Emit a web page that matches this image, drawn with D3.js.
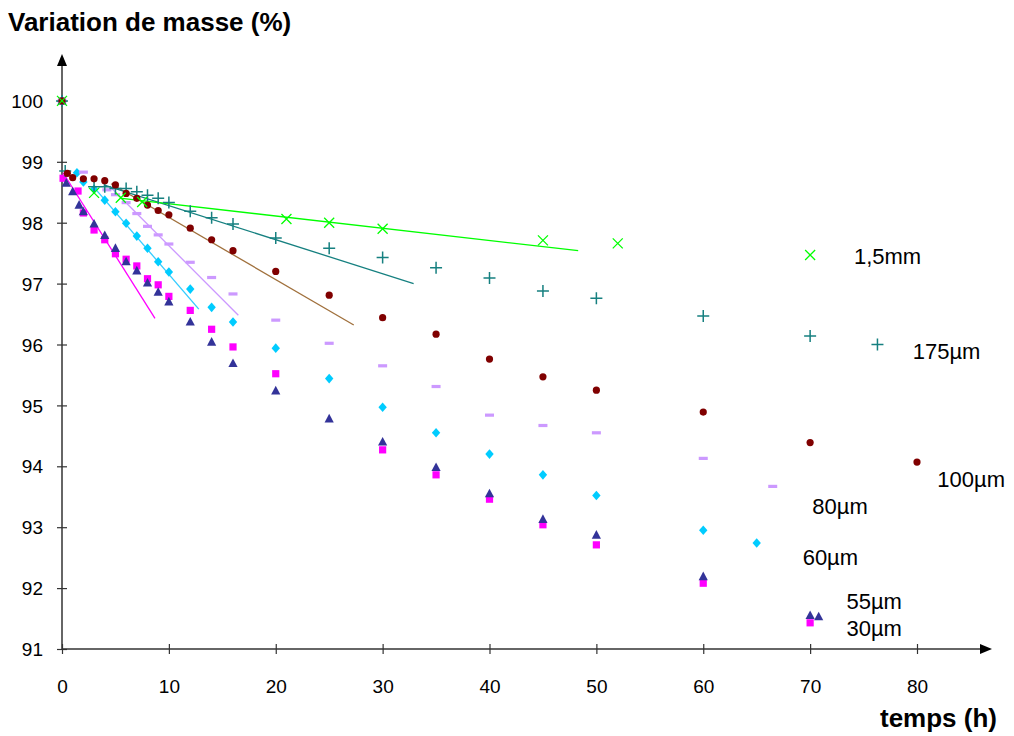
<!DOCTYPE html>
<html><head><meta charset="utf-8">
<script src="https://cdn.jsdelivr.net/npm/d3@7"></script>
<style>body{margin:0;background:#fff}svg{display:block;font-family:Arial,"Liberation Sans",sans-serif}</style>
</head><body><svg id="c" width="1014" height="736"></svg>
<script>
// ---- data ----
const xTicks = [0,10,20,30,40,50,60,70,80];
const yTicks = [91,92,93,94,95,96,97,98,99,100];

const t30 = [0,0.1,1.5,2,3,4,5,6,7,8,9,10,12,14,16,20,30,35,40,45,50,60,70];
const v30 = [100,98.73,98.52,98.16,97.88,97.72,97.49,97.40,97.29,97.08,96.98,96.79,96.56,96.25,95.96,95.52,94.27,93.86,93.46,93.04,92.71,92.08,91.43];

const t55 = [0,0.4,1,1.6,2,3,4,5,6,7,8,9,10,12,14,16,20,25,30,35,40,45,50,60,70,70.8];
const v55 = [100,98.65,98.51,98.29,98.18,97.98,97.79,97.58,97.36,97.21,97.01,96.86,96.70,96.37,96.04,95.69,95.24,94.78,94.40,93.98,93.55,93.13,92.87,92.19,91.55,91.53];

const t60 = [0,1.4,2,3,4,5,6,7,8,9,10,12,14,16,20,25,30,35,40,45,50,60,65];
const v60 = [100,98.82,98.67,98.55,98.37,98.18,97.99,97.78,97.58,97.36,97.19,96.91,96.61,96.37,95.94,95.44,94.97,94.55,94.20,93.86,93.52,92.95,92.74];

const t80 = [0,2,4.2,5,6,7,8,9,10,12,14,16,20,25,30,35,40,45,50,60,66.5];
const v80 = [100,98.83,98.54,98.46,98.33,98.15,97.94,97.80,97.65,97.35,97.10,96.83,96.40,96.02,95.65,95.31,94.84,94.67,94.55,94.13,93.67];

const t100 = [0,0.5,1,2,3,4,5,6,7,8,9,10,12,14,16,20,25,30,35,40,45,50,60,70,80];
const v100 = [100,98.81,98.74,98.72,98.72,98.69,98.62,98.48,98.40,98.29,98.20,98.13,97.91,97.72,97.54,97.20,96.81,96.44,96.17,95.76,95.47,95.25,94.89,94.39,94.07];

const t175 = [0,0.3,3,4,5,6,7,8,9,10,12,14,16,20,25,30,35,40,45,50,60,70,76.3];
const v175 = [100,98.85,98.59,98.59,98.56,98.56,98.51,98.45,98.40,98.33,98.19,98.08,97.98,97.75,97.58,97.43,97.26,97.09,96.88,96.76,96.47,96.14,96.00];

const t15 = [0,3,5.5,7.5,21,25,30,45,52,70];
const v15 = [100,98.49,98.41,98.34,98.06,98.00,97.90,97.71,97.66,97.47];

// trend lines: [t start, t end], [v start, v end]
const trend30 = {t:[0.1,8.7], v:[98.82,96.43]};
const trend60 = {t:[3.2,12.8], v:[98.54,96.58]};
const trend80 = {t:[4.5,16.5], v:[98.59,96.48]};
const trend100 = {t:[4.6,27.3], v:[98.64,96.32]};
const trend175 = {t:[3.9,32.9], v:[98.62,97.00]};
const trend15 = {t:[5.6,48.3], v:[98.40,97.54]};

const labelNames = ["1,5mm","175µm","100µm","80µm","60µm","55µm","30µm"];
const labelT = [74.1,79.6,81.9,70.2,69.3,73.4,73.4];
const labelV = [97.45,95.89,93.78,93.35,92.51,91.79,91.34];

// ---- drawing ----
const svg = d3.select("#c");
const x = d3.scaleLinear().domain([0,80]).range([62,917]);
const y = d3.scaleLinear().domain([91,100]).range([649,100.9]);
const axisCol = "#333";

// axes
const g = svg.append("g");
g.append("line").attr("x1",x(0)).attr("x2",982).attr("y1",y(91)).attr("y2",y(91)).attr("stroke",axisCol).attr("stroke-width",1.5);
g.append("line").attr("x1",x(0)).attr("x2",x(0)).attr("y1",y(91)).attr("y2",64).attr("stroke",axisCol).attr("stroke-width",1.5);
g.append("path").attr("d",`M992,${y(91)} L980,${y(91)-5} L980,${y(91)+5} Z`).attr("fill","#000");
g.append("path").attr("d",`M${x(0)},54 L${x(0)-5},66 L${x(0)+5},66 Z`).attr("fill","#000");

const xAxis = d3.axisBottom(x).tickValues(xTicks).tickSize(0).tickPadding(0);
const gx = svg.append("g").attr("transform",`translate(0,${y(91)})`).call(xAxis);
gx.select(".domain").remove();
gx.selectAll(".tick line").remove();
gx.selectAll(".tick").append("line").attr("y1",-5).attr("y2",5).attr("stroke",axisCol).attr("stroke-width",1.2);
gx.selectAll(".tick text").attr("y",37).attr("dy","0.35em").attr("font-size",19).attr("fill","#000").attr("font-family","Arial, 'Liberation Sans', sans-serif");

const yAxis = d3.axisLeft(y).tickValues(yTicks).tickSize(0).tickPadding(0);
const gy = svg.append("g").attr("transform",`translate(${x(0)},0)`).call(yAxis);
gy.select(".domain").remove();
gy.selectAll(".tick").append("line").attr("x1",-5).attr("x2",5).attr("stroke",axisCol).attr("stroke-width",1.2);
gy.selectAll(".tick text").attr("x",-19).attr("dy","0.35em").attr("font-size",19).attr("fill","#000").attr("font-family","Arial, 'Liberation Sans', sans-serif");

// titles
svg.append("text").attr("x",8).attr("y",31).attr("font-size",26).attr("font-weight","bold").text("Variation de masse (%)");
svg.append("text").attr("x",997).attr("y",727).attr("text-anchor","end").attr("font-size",26).attr("font-weight","bold").text("temps (h)");

// trend lines
const trends = [
  [trend30,"#ff00ff"],[trend60,"#33ccff"],[trend80,"#cc99ff"],
  [trend100,"#a0703c"],[trend175,"#168080"],[trend15,"#00ff00"]
];
trends.forEach(([tr,c])=>{
  svg.append("line").attr("x1",x(tr.t[0])).attr("y1",y(tr.v[0])).attr("x2",x(tr.t[1])).attr("y2",y(tr.v[1]))
    .attr("stroke",c).attr("stroke-width",1.3);
});

// markers
function pts(ts,vs){return ts.map((t,i)=>({t,v:vs[i]}));}
const mk = {
  square: (s,c)=>s.append("rect").attr("x",-3.6).attr("y",-3.6).attr("width",7.2).attr("height",7.2).attr("fill",c),
  triangle: (s,c)=>s.append("path").attr("d","M0,-5 L4.6,3.6 L-4.6,3.6 Z").attr("fill",c),
  diamond: (s,c)=>s.append("path").attr("d","M0,-4.8 L4.2,0 L0,4.8 L-4.2,0 Z").attr("fill",c),
  dash: (s,c)=>s.append("rect").attr("x",-4.5).attr("y",-1.6).attr("width",9).attr("height",3.2).attr("fill",c),
  circle: (s,c)=>s.append("circle").attr("r",3.6).attr("fill",c),
  plus: (s,c)=>s.append("path").attr("d","M-6,0 H6 M0,-6 V6").attr("stroke",c).attr("stroke-width",1.5).attr("fill","none"),
  cross: (s,c)=>s.append("path").attr("d","M-5,-5 L5,5 M-5,5 L5,-5").attr("stroke",c).attr("stroke-width",1.3).attr("fill","none")
};
const series = [
  [t30,v30,"square","#ff00ff"],
  [t55,v55,"triangle","#333399"],
  [t60,v60,"diamond","#00ccff"],
  [t80,v80,"dash","#cc99ff"],
  [t175,v175,"plus","#168080"],
  [t100,v100,"circle","#800000"],
  [t15,v15,"cross","#00ff00"]
];
series.forEach(([ts,vs,shape,c])=>{
  const sel = svg.append("g").selectAll("g").data(pts(ts,vs)).join("g")
    .attr("transform",d=>`translate(${x(d.t)},${y(d.v)})`);
  mk[shape](sel,c);
});

// series labels
svg.append("g").selectAll("text").data(labelNames).join("text")
  .attr("x",(d,i)=>x(labelT[i])).attr("y",(d,i)=>y(labelV[i])).attr("dy","0.35em")
  .attr("font-size",22).attr("fill","#000").text(d=>d);
</script></body></html>
